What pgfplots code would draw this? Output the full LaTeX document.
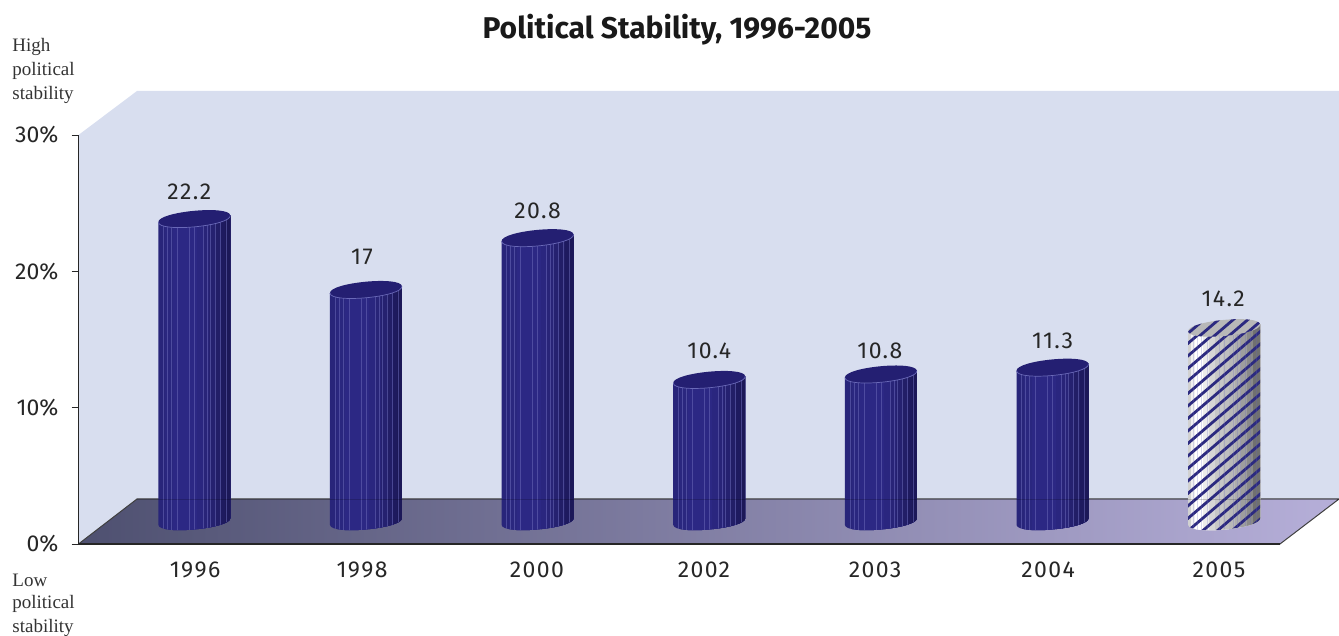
\documentclass[border=0pt]{standalone}
\usepackage{fontspec}
\setmainfont{Fira Sans}
\newfontfamily\notefont{Liberation Serif}
\newfontfamily\spacedfont[LetterSpace=6]{Fira Sans}
\usepackage{pgfplots}
\pgfplotsset{compat=1.18}
\usepackage{pgfplotstable}
\newlength{\px}\setlength{\px}{0.5pt}
\definecolor{wall}{HTML}{D8DEEF}
\definecolor{floorA}{HTML}{4E5070}
\definecolor{floorM}{HTML}{8C8ABA}
\definecolor{floorB}{HTML}{B6AFD9}
\definecolor{navyL}{HTML}{28257A}
\definecolor{navyM}{HTML}{2C2884}
\definecolor{navyR}{HTML}{1C1858}
\definecolor{navyTop}{HTML}{241F72}
\definecolor{rib}{HTML}{6A69B8}
\definecolor{hatch}{HTML}{2C2A80}

% outline of a cylinder body hanging below its top face; \cylH is its height in px
\newcommand{\cylpath}{%
  (-36,-3.47) -- (-36,-3.47-\cylH)
  .. controls (-34.98,-14.09-\cylH) and (37.02,-7.15-\cylH) .. (36,3.47-\cylH)
  -- (36,3.47) -- cycle}
% tilted top face and its front rim
\newcommand{\rimpath}{%
  (-36,-3.47) .. controls (-34.98,-14.09) and (37.02,-7.15) .. (36,3.47)}
\newcommand{\cappath}{%
  (-36,-3.47) .. controls (-37.02,7.15) and (34.98,14.09) .. (36,3.47)
  .. controls (37.02,-7.15) and (-34.98,-14.09) .. (-36,-3.47) -- cycle}
% faceted side: each strip runs from its own offset to the far edge
\newcommand{\facets}[1]{%
  \foreach \d/\col in {#1}{%
    \path[draw=none,fill=\col] (-37+\d,12) rectangle (38,-\cylH-22);}}
\newcommand{\ribs}[1]{%
  \foreach \d in {5,9,13,19,31,36,45,49,52,57,62,68}{%
    \path[draw=rib,opacity=#1,line width=.35pt] (-36+\d,10) -- (-36+\d,-\cylH-20);}}
\newcommand{\hatchlines}{%
  \foreach \k in {-1,...,26}{%
    \path[draw=hatch,line width=1.4pt] (-38,8-\k*12.5) -- (38,8-\k*12.5+65);}}

\pgfdeclareplotmark{cylsolid}{%
  \begin{scope}[x=\px,y=\px]
    \pgfmathsetmacro{\cylH}{\cylval*13.63}
    \begin{scope}
      \path[draw=none,clip] \cylpath;
      \facets{0/navyL,8/navyL!50!navyM,16/navyM,40/navyM!88!navyR,46/navyM!72!navyR,
              52/navyM!55!navyR,58/navyM!35!navyR,64/navyM!15!navyR,68/navyR}
      \ribs{.55}
    \end{scope}
    \path[draw=none,fill=navyTop] \cappath;
    \path[draw=rib,line width=.35pt] \rimpath;
  \end{scope}}
\pgfdeclareplotmark{cylhatch}{%
  \begin{scope}[x=\px,y=\px]
    \pgfmathsetmacro{\cylH}{\cylval*13.63}
    \begin{scope}
      \path[draw=none,clip] \cylpath;
      \facets{0/black!18,4/black!6,8/white,16/black!8,22/black!16,28/black!22,36/black!25,
              42/black!28,48/black!32,54/black!38,60/black!46,66/black!56}
      \hatchlines
      \ribs{.25}
    \end{scope}
    \path[draw=none,fill=black!28] \cappath;
    \begin{scope}
      \path[draw=none,clip] \cappath;
      \foreach \k in {-4,...,3}{\path[draw=hatch,line width=1.4pt] (-38,\k*12.5-32) -- (38,\k*12.5+33);}
    \end{scope}
  \end{scope}}

\pgfplotstableread{
x   v     dx  dy
0.5 22.2  -5  27
1.5 17.0  -4  33
2.5 20.8   0  27
3.5 10.4   0  29
4.5 10.8  -1  23
5.5 11.3   0  27
}\solidbars
\pgfplotstableread{
x   v     dx  dy
6.5 14.2  -1  29
}\hatchedbars

\pgfplotsset{
  cyl/.style={
    scatter,only marks,mark=#1,point meta=explicit,
    scatter/use mapped color={draw=none,fill=none},
    visualization depends on={\thisrow{v}\as\cylval},
    visualization depends on={\thisrow{dx}\as\lblx},
    visualization depends on={\thisrow{dy}\as\lbly},
    nodes near coords,
    every node near coord/.append style={
      anchor=center,font=\spacedfont\fontsize{11.5pt}{13pt}\selectfont,text=black!85,
      /pgf/number format/assume math mode=true,inner sep=0pt,
      xshift=\lblx*\px,yshift=\lbly*\px}},
}

\begin{document}
\begin{tikzpicture}[x=\px,y=\px]
  \useasboundingbox (0,0) rectangle (1339,636);
  % back wall and floor of the chart box
  \fill[wall] (78.5,501) -- (137,545) -- (1339,545) -- (1339,137) -- (137,137) -- (78.5,92) -- cycle;
  \path[left color=floorA,middle color=floorM,right color=floorB] (78.5,92) -- (137,137) -- (1339,137) -- (1280,92) -- cycle;
  \draw[black!75,line width=.5pt] (78.5,92) -- (137,137) -- (1339,137) -- (1280,92);

  \begin{axis}[
    at={(78.5\px,92\px)},anchor=south west,scale only axis,
    width=1201.5\px,height=409\px,
    xmin=0,xmax=7,ymin=0,ymax=30,
    axis x line*=bottom,axis y line*=left,
    axis line style={black!85,line width=.75pt,-},
    tick style={black!85,line width=.4pt},
    major tick length=7\px,
    tick align=outside,
    xtick={0.679,1.652,2.671,3.644,4.641,5.649,6.645},
    xticklabels={1996,1998,2000,2002,2003,2004,2005},
    x tick style={draw=none},
    extra x ticks={0,1,2,3,4,5,6,7},
    extra x tick labels={},
    extra x tick style={tick style={black!85,line width=.4pt}},
    ytick={0,10,20,30},
    yticklabels={0\%,10\%,20\%,30\%},
    xticklabel style={font=\spacedfont\fontsize{11.5pt}{13pt}\selectfont,text=black!85,yshift=-4\px},
    yticklabel style={font=\fontsize{11.5pt}{13pt}\selectfont,text=black!85,xshift=-6\px},
  ]
  \end{axis}

  % the columns stand half way into the floor
  \begin{axis}[
    at={(108.5\px,114.5\px)},anchor=south west,scale only axis,
    width=1201.5\px,height=409\px,
    xmin=0,xmax=7,ymin=0,ymax=30,
    hide axis,clip=false,
  ]
    \addplot[cyl=cylsolid] table[x=x,y=v,meta=v] {\solidbars};
    \addplot[cyl=cylhatch] table[x=x,y=v,meta=v] {\hatchedbars};
  \end{axis}

  % back edge of the floor, faintly visible through the columns
  \draw[black,opacity=.18,line width=.4pt] (137,137) -- (1339,137);

  \node[font=\fontsize{15pt}{18pt}\selectfont\bfseries,text=black!90] at (677,606) {Political Stability, 1996-2005};
  \begin{scope}[every node/.style={anchor=west,inner sep=0pt,font=\notefont\fontsize{9.5pt}{11pt}\selectfont,text=black!80}]
    \node at (12,589) {High};
    \node at (12,565) {political};
    \node at (12,541) {stability};
    \node at (12,56) {Low};
    \node at (12,32) {political};
    \node at (12,8) {stability};
  \end{scope}
\end{tikzpicture}
\end{document}
